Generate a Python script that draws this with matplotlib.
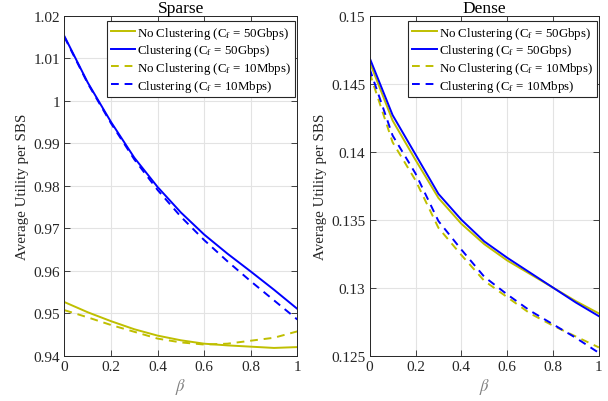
import matplotlib
matplotlib.use('Agg')
import matplotlib.pyplot as plt
import numpy as np
from matplotlib.ticker import FuncFormatter

plt.rcParams['font.family'] = ['Liberation Serif', 'DejaVu Serif']
plt.rcParams['mathtext.fontset'] = 'stix'

# ---- data ----
beta = [0.0, 0.1, 0.2, 0.3, 0.4, 0.5, 0.6, 0.7, 0.8, 0.9, 1.0]

sparse_noclu_50g = [0.9526, 0.9502, 0.9481, 0.9462, 0.9447, 0.9436, 0.9428, 0.9424, 0.9421, 0.9418, 0.9420]
sparse_clu_50g = [1.0152, 1.0043, 0.9950, 0.9866, 0.9797, 0.9737, 0.9685, 0.9640, 0.9598, 0.9555, 0.9510]
sparse_noclu_10m = [0.9507, 0.9490, 0.9472, 0.9456, 0.9440, 0.9431, 0.9426, 0.9428, 0.9435, 0.9442, 0.9457]
sparse_clu_10m = [1.0150, 1.0041, 0.9947, 0.9862, 0.9790, 0.9727, 0.9672, 0.9622, 0.9575, 0.9530, 0.9485]

dense_noclu_50g = [0.1466, 0.1423, 0.1394, 0.1366, 0.1347, 0.1332, 0.1320, 0.1310, 0.1300, 0.1290, 0.1281]
dense_clu_50g = [0.1469, 0.1427, 0.1398, 0.1369, 0.1350, 0.1334, 0.1322, 0.1311, 0.1300, 0.1289, 0.1279]
dense_noclu_10m = [0.1458, 0.1407, 0.1379, 0.1344, 0.1324, 0.1305, 0.1293, 0.1281, 0.1272, 0.1264, 0.1256]
dense_clu_10m = [0.1461, 0.1412, 0.1384, 0.1349, 0.1328, 0.1308, 0.1295, 0.1283, 0.1273, 0.1263, 0.1252]

labels = ['No Clustering (C$_\\mathrm{f}$ = 50Gbps)',
          'Clustering (C$_\\mathrm{f}$ = 50Gbps)',
          'No Clustering (C$_\\mathrm{f}$ = 10Mbps)',
          'Clustering (C$_\\mathrm{f}$ = 10Mbps)']

sparse_yticks = [0.94, 0.95, 0.96, 0.97, 0.98, 0.99, 1.0, 1.01, 1.02]
dense_yticks = [0.125, 0.13, 0.135, 0.14, 0.145, 0.15]
xticks = [0, 0.2, 0.4, 0.6, 0.8, 1]

YELLOW = '#BFBF00'
BLUE = '#0000FF'
AXC = '#262626'

fig = plt.figure(figsize=(6.08, 4.02), dpi=100)
ax1 = fig.add_axes([0.106, 0.113, 0.383, 0.845])
ax2 = fig.add_axes([0.608, 0.113, 0.377, 0.845])

panels = [
    (ax1, 'Sparse', [sparse_noclu_50g, sparse_clu_50g, sparse_noclu_10m, sparse_clu_10m], sparse_yticks),
    (ax2, 'Dense', [dense_noclu_50g, dense_clu_50g, dense_noclu_10m, dense_clu_10m], dense_yticks),
]

fmt = FuncFormatter(lambda v, p: '%g' % round(v, 4))

for ax, title, series, yt in panels:
    styles = [(YELLOW, '-'), (BLUE, '-'), (YELLOW, (0, (4, 3))), (BLUE, (0, (4, 3)))]
    for ys, (c, ls), lab in zip(series, styles, labels):
        ax.plot(beta, ys, color=c, linestyle=ls, linewidth=1.4, label=lab)
    ax.set_xlim(0, 1)
    ax.set_ylim(yt[0], yt[-1])
    ax.set_xticks(xticks)
    ax.set_yticks(yt)
    ax.xaxis.set_major_formatter(fmt)
    ax.yaxis.set_major_formatter(fmt)
    ax.grid(True, color='#E3E3E3', linewidth=0.8)
    ax.set_axisbelow(True)
    ax.tick_params(direction='in', top=True, right=True, length=4, width=0.6,
                   colors=AXC, labelsize=11, labelcolor=AXC, pad=3)
    for s in ax.spines.values():
        s.set_color(AXC)
        s.set_linewidth(0.7)
    ax.set_title(title, fontsize=12.5, color='black', pad=2.5)
    ax.set_xlabel('$\\beta$', fontsize=12, color='#808080', labelpad=2)
    ax.set_ylabel('Average Utility per SBS', fontsize=10.8, color=AXC, labelpad=3)
    leg = ax.legend(loc='upper right', bbox_to_anchor=(0.991, 0.985), fontsize=9.3,
                    handlelength=1.9, handletextpad=0.15, borderaxespad=0.0,
                    labelspacing=0.12, borderpad=0.3, fancybox=False, framealpha=1)
    leg.get_frame().set_edgecolor(AXC)
    leg.get_frame().set_linewidth(0.8)

fig.savefig('out.png', dpi=100)
